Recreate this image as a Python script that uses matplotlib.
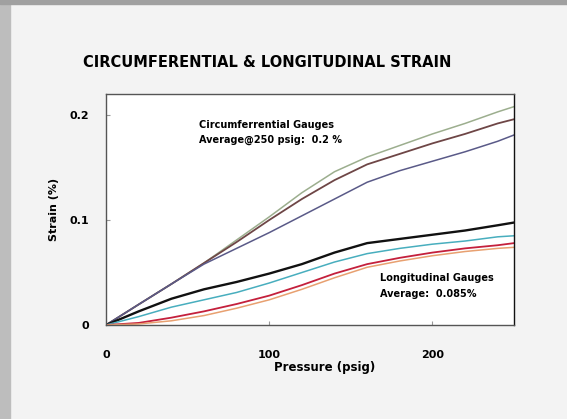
import matplotlib
matplotlib.use('Agg')
import matplotlib.pyplot as plt
from matplotlib.patches import Rectangle

# pressure (psig)
pressure = [0, 20, 40, 60, 80, 100, 120, 140, 160, 180, 200, 220, 240, 250]

# circumferential gauges, strain (%)
circ_green = [0, 0.0196, 0.039, 0.059, 0.081, 0.103, 0.126, 0.146, 0.160, 0.171, 0.182, 0.192, 0.203, 0.208]
circ_brown = [0, 0.0196, 0.039, 0.059, 0.079, 0.100, 0.120, 0.138, 0.153, 0.163, 0.173, 0.182, 0.192, 0.196]
circ_blue = [0, 0.0196, 0.039, 0.058, 0.073, 0.088, 0.104, 0.120, 0.136, 0.147, 0.156, 0.165, 0.175, 0.181]

# longitudinal gauges, strain (%)
long_black = [0, 0.013, 0.025, 0.034, 0.041, 0.049, 0.058, 0.069, 0.078, 0.082, 0.086, 0.090, 0.095, 0.0976]
long_cyan = [0, 0.008, 0.017, 0.024, 0.031, 0.040, 0.050, 0.060, 0.068, 0.073, 0.077, 0.080, 0.084, 0.085]
long_red = [0, 0.002, 0.007, 0.013, 0.020, 0.028, 0.038, 0.049, 0.058, 0.064, 0.069, 0.073, 0.076, 0.078]
long_orange = [0, 0.001, 0.004, 0.009, 0.016, 0.024, 0.034, 0.045, 0.055, 0.061, 0.066, 0.070, 0.073, 0.074]

fig = plt.figure(figsize=(5.67, 4.19), dpi=100, facecolor='#f3f3f3')
# slide edges (photo of a projected slide)
fig.patches.append(Rectangle((0, 0), 0.018, 1, transform=fig.transFigure, color='#bdbdbd', zorder=0))
fig.patches.append(Rectangle((0, 0.99), 1, 0.01, transform=fig.transFigure, color='#a0a0a0', zorder=0))

ax = fig.add_axes([0.187, 0.2243, 0.7196, 0.5513])
ax.set_facecolor('white')

ax.plot(pressure, circ_green, color='#9cae8e', lw=1.1)
ax.plot(pressure, circ_brown, color='#6e4646', lw=1.3)
ax.plot(pressure, circ_blue, color='#5a5a88', lw=1.1)

ax.plot(pressure, long_black, color='#111111', lw=1.7)
ax.plot(pressure, long_cyan, color='#48aebe', lw=1.1)
ax.plot(pressure, long_red, color='#c4203c', lw=1.3)
ax.plot(pressure, long_orange, color='#e8a070', lw=1.1)

ax.set_xlim(0, 250)
ax.set_ylim(0, 0.22)
ax.set_xticks([0, 100, 200])
ax.set_yticks([0, 0.1, 0.2])
ax.set_yticklabels(['0', '0.1', '0.2'])
ax.tick_params(direction='in', length=3, color='#999999', labelsize=8)
ax.tick_params(axis='x', pad=18)
ax.tick_params(axis='y', pad=12)
for lab in ax.get_xticklabels() + ax.get_yticklabels():
    lab.set_fontweight('bold')
for s in ax.spines.values():
    s.set_color('#555555')
    s.set_linewidth(1)
ax.spines['right'].set_color('#111111')

ax.set_xlabel('Pressure (psig)', fontsize=8.5, fontweight='bold', labelpad=2)
ax.xaxis.set_label_coords(0.535, -0.155)
ax.set_ylabel('Strain (%)', fontsize=8, fontweight='bold', labelpad=8)

ax.text(0.228, 0.835, 'Circumferrential Gauges\nAverage@250 psig:  0.2 %',
        transform=ax.transAxes, fontsize=7, fontweight='bold', va='center',
        linespacing=1.6)
ax.text(0.672, 0.168, 'Longitudinal Gauges\nAverage:  0.085%',
        transform=ax.transAxes, fontsize=7, fontweight='bold', va='center',
        linespacing=1.7)

fig.text(0.472, 0.851, 'CIRCUMFERENTIAL & LONGITUDINAL STRAIN',
         ha='center', va='center', fontsize=10.5, fontweight='bold')

fig.savefig('out.png', dpi=100, facecolor=fig.get_facecolor())
